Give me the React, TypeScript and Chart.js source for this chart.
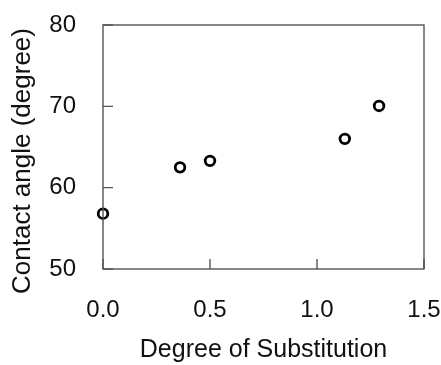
import React, { useEffect, useRef } from "react";
import { Chart, registerables } from "chart.js";

Chart.register(...registerables);

const degreeOfSubstitution = [0, 0.36, 0.5, 1.13, 1.29];
const contactAngle = [56.8, 62.5, 63.3, 66.0, 70.05];
const xTickValues = [0, 0.5, 1.0, 1.5];
const yTickValues = [50, 60, 70, 80];
const xTitle = "Degree of Substitution";
const yTitle = "Contact angle (degree)";

const FONT = "'Liberation Sans', Arial, Helvetica, sans-serif";

const framePlugin = {
  id: "frameAndTicks",
  afterDraw(chart: any) {
    const { ctx, chartArea } = chart;
    const { left, right, top, bottom } = chartArea;
    const xs = chart.scales.x;
    const ys = chart.scales.y;
    ctx.save();
    ctx.strokeStyle = "#555";
    ctx.lineWidth = 1.4;
    ctx.strokeRect(left, top, right - left, bottom - top);
    const len = 10;
    ctx.beginPath();
    xTickValues.forEach((v) => {
      const px = xs.getPixelForValue(v);
      ctx.moveTo(px, bottom);
      ctx.lineTo(px, bottom - len);
    });
    yTickValues.forEach((v) => {
      const py = ys.getPixelForValue(v);
      ctx.moveTo(left, py);
      ctx.lineTo(left + len, py);
    });
    ctx.stroke();
    // y axis title
    ctx.translate(23, 161);
    ctx.rotate(-Math.PI / 2);
    ctx.fillStyle = "#111";
    ctx.font = `26px ${FONT}`;
    ctx.textAlign = "center";
    ctx.textBaseline = "middle";
    ctx.fillText(yTitle, 0, 0);
    ctx.restore();
  },
};

const zeroPadding = (s: any) => {
  s.paddingTop = 0;
  s.paddingBottom = 0;
  s.paddingLeft = 0;
  s.paddingRight = 0;
};

export default function App() {
  const ref = useRef<HTMLCanvasElement | null>(null);
  useEffect(() => {
    document.body.style.margin = "0";
    const canvas = ref.current;
    if (!canvas) return;
    const chart = new Chart(canvas, {
      type: "scatter",
      data: {
        datasets: [
          {
            data: degreeOfSubstitution.map((x, i) => ({ x, y: contactAngle[i] })),
            pointStyle: "circle",
            pointRadius: 4.8,
            pointHoverRadius: 4.8,
            pointBorderWidth: 2.8,
            pointBorderColor: "#000",
            pointBackgroundColor: "#fff",
            clip: false,
          } as any,
        ],
      },
      options: {
        animation: false,
        responsive: false,
        events: [],
        layout: { padding: { left: 0, top: 25, right: 17, bottom: 0 } },
        plugins: { legend: { display: false }, tooltip: { enabled: false } },
        scales: {
          x: {
            type: "linear",
            min: 0,
            max: 1.5,
            afterFit: (s: any) => {
              s.height = 96;
              zeroPadding(s);
            },
            afterBuildTicks: (s: any) => {
              s.ticks = xTickValues.map((v) => ({ value: v }));
            },
            grid: { display: false, drawTicks: false },
            border: { display: false },
            ticks: {
              padding: 27,
              color: "#111",
              font: { family: FONT, size: 24 },
              callback: (v: any) => Number(v).toFixed(1),
              maxRotation: 0,
            },
            title: {
              display: true,
              text: xTitle,
              color: "#111",
              font: { family: FONT, size: 25 },
              padding: { top: 0, bottom: 0 },
            },
          },
          y: {
            type: "linear",
            min: 50,
            max: 80,
            afterFit: (s: any) => {
              s.width = 103;
              zeroPadding(s);
            },
            afterBuildTicks: (s: any) => {
              s.ticks = yTickValues.map((v) => ({ value: v }));
            },
            grid: { display: false, drawTicks: false },
            border: { display: false },
            ticks: {
              padding: 27,
              color: "#111",
              font: { family: FONT, size: 24 },
              callback: (v: any) => String(v),
            },
          },
        },
      },
      plugins: [framePlugin],
    });
    return () => chart.destroy();
  }, []);
  return (
    <div style={{ position: "fixed", left: 0, top: 0, width: 441, height: 365, background: "#fff" }}>
      <canvas ref={ref} width={441} height={365} style={{ width: 441, height: 365, display: "block" }} />
    </div>
  );
}
